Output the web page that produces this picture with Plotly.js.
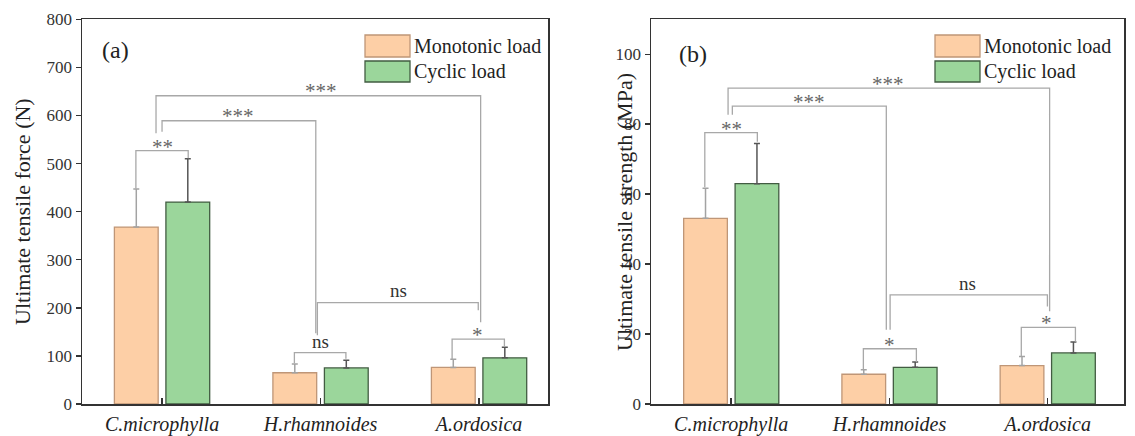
<!DOCTYPE html>
<html><head><meta charset="utf-8">
<script src="https://cdn.plot.ly/plotly-3.0.1.min.js"></script>
<style>html,body{margin:0;padding:0;background:#fff}</style>
</head><body><div id="chart" style="width:1135px;height:436px"></div>
<script>
const categories = ['C.microphylla', 'H.rhamnoides', 'A.ordosica'];
const seriesNames = ['Monotonic load', 'Cyclic load'];
const forceMono = [368, 65, 76];
const forceMonoErr = [79, 18, 17];
const forceCyclic = [420, 75, 96];
const forceCyclicErr = [90, 16, 22];
const strengthMono = [53.1, 8.5, 11.0];
const strengthMonoErr = [8.6, 1.3, 2.6];
const strengthCyclic = [63.0, 10.5, 14.6];
const strengthCyclicErr = [11.5, 1.5, 3.1];
// significance brackets: [xLeft, xRight, yTop, yLeftEnd, yRightEnd, label, labelX, labelY]
const sigForce = [
  [-0.165, 0.165, 527, 448, 511, '**', 0, 545],
  [0.0, 0.97, 589, 566, 147, '***', 0.48, 609],
  [-0.038, 2.01, 641, 563, 170, '***', 1.0, 661],
  [0.98, 1.995, 211, 143, 195, 'ns', 1.49, 231],
  [0.835, 1.16, 107, 85, 94, 'ns', 1.0, 125],
  [1.83, 2.16, 135, 93, 119, '*', 1.99, 154]
];
const sigStrength = [
  [-0.167, 0.165, 77.6, 62.0, 75.0, '**', 0, 80.1],
  [0.007, 0.98, 85.2, 82.7, 21.2, '***', 0.494, 87.7],
  [-0.02, 2.012, 90.3, 82.7, 26.5, '***', 0.99, 92.9],
  [1.004, 1.998, 31.2, 21.2, 27.9, 'ns', 1.495, 33.8],
  [0.835, 1.17, 15.8, 10.0, 12.0, '*', 1.0, 18.4],
  [1.833, 2.175, 21.9, 13.7, 17.8, '*', 1.99, 24.6]
];

const xs = categories.map((c, i) => i);
const FONT = 'Liberation Serif, Times New Roman, serif';
const monoFill = '#FDCFA6', monoLine = '#BF9677', monoErr = '#A3A3A3';
const cycFill = '#9BD69B', cycLine = '#425C42', cycErr = '#555555';
const W = 1135, H = 436;

function barTrace(vals, errs, name, fill, line, ecol, xa, ya) {
  return {
    type: 'bar', x: xs, y: vals, name: name, xaxis: xa, yaxis: ya, showlegend: false,
    marker: {color: fill, line: {color: line, width: 1.3}},
    error_y: {type: 'data', symmetric: false, array: errs, arrayminus: errs.map(() => 0),
      color: ecol, thickness: 1.5, width: 3}
  };
}

const data = [
  barTrace(forceMono, forceMonoErr, seriesNames[0], monoFill, monoLine, monoErr, 'x', 'y'),
  barTrace(forceCyclic, forceCyclicErr, seriesNames[1], cycFill, cycLine, cycErr, 'x', 'y'),
  barTrace(strengthMono, strengthMonoErr, seriesNames[0], monoFill, monoLine, monoErr, 'x2', 'y2'),
  barTrace(strengthCyclic, strengthCyclicErr, seriesNames[1], cycFill, cycLine, cycErr, 'x2', 'y2')
];

const shapes = [], annotations = [];
function addSig(list, xr, yr) {
  list.forEach(b => {
    const [x1, x2, yt, yl, yr2, lab, lx, ly] = b;
    shapes.push({type: 'path', xref: xr, yref: yr,
      path: `M ${x1} ${yl} L ${x1} ${yt} L ${x2} ${yt} L ${x2} ${yr2}`,
      line: {color: '#A8A8A8', width: 1.3}});
    annotations.push({xref: xr, yref: yr, x: lx, y: ly, text: lab, showarrow: false,
      xanchor: 'center', yanchor: 'middle', yshift: lab === 'ns' ? 2 : -5,
      font: {family: FONT, size: lab === 'ns' ? 19 : 21, color: lab === 'ns' ? '#333' : '#666'}});
  });
}
addSig(sigForce, 'x', 'y');
addSig(sigStrength, 'x2', 'y2');

// legends (drawn per panel)
function addLegend(boxLeft, textLeft) {
  const rows = [[35, 57, 46, monoFill, monoLine, seriesNames[0]], [61, 82, 71.5, cycFill, cycLine, seriesNames[1]]];
  rows.forEach(r => {
    shapes.push({type: 'rect', xref: 'paper', yref: 'paper',
      x0: boxLeft / W, x1: (boxLeft + 45) / W, y0: 1 - r[1] / H, y1: 1 - r[0] / H,
      fillcolor: r[3], line: {color: r[4], width: 1.3}});
    annotations.push({xref: 'paper', yref: 'paper', x: textLeft / W, y: 1 - r[2] / H,
      text: r[5], showarrow: false, xanchor: 'left', yanchor: 'middle',
      font: {family: FONT, size: 20, color: '#222'}});
  });
}
addLegend(365, 412);
addLegend(935, 982);

annotations.push({xref: 'paper', yref: 'paper', x: 115 / W, y: 1 - 50 / H, text: '(a)', showarrow: false,
  xanchor: 'center', yanchor: 'middle', font: {family: FONT, size: 24, color: '#222'}});
annotations.push({xref: 'paper', yref: 'paper', x: 693 / W, y: 1 - 54 / H, text: '(b)', showarrow: false,
  xanchor: 'center', yanchor: 'middle', font: {family: FONT, size: 24, color: '#222'}});
// y-axis title of panel (b) overlaps its tick labels, as in the original
annotations.push({xref: 'paper', yref: 'paper', x: 624 / W, y: 1 - 212 / H, text: 'Ultimate tensile strength (MPa)',
  showarrow: false, textangle: -90, xanchor: 'center', yanchor: 'middle',
  font: {family: FONT, size: 22, color: '#222'}});

const xCommon = {
  tickmode: 'array', tickvals: xs, ticktext: categories, ticks: 'inside', ticklen: 6, tickwidth: 1.5,
  tickcolor: '#333', showline: true, mirror: true, linecolor: '#333', linewidth: 1.5,
  showgrid: false, zeroline: false, automargin: false, ticklabelstandoff: 1,
  tickfont: {family: FONT, size: 20, color: '#222', style: 'italic'}
};
const yCommon = {
  ticks: 'outside', ticklen: 5, tickwidth: 1.5, tickcolor: '#333', showline: true, mirror: true,
  linecolor: '#333', linewidth: 1.5, showgrid: false, zeroline: false, automargin: false,
  tickfont: {family: FONT, size: 17, color: '#333'}
};

const layout = {
  width: W, height: H, margin: {l: 0, r: 0, t: 0, b: 0},
  paper_bgcolor: '#fff', plot_bgcolor: '#fff',
  barmode: 'group', bargap: 0.35, bargroupgap: 0.15, showlegend: false,
  xaxis: Object.assign({}, xCommon, {domain: [82 / W, 548 / W], range: [-0.505, 2.435], anchor: 'y'}),
  yaxis: Object.assign({}, yCommon, {domain: [1 - 404 / H, 1 - 19.3 / H], range: [0, 800], dtick: 100, anchor: 'x',
    title: {text: 'Ultimate tensile force (N)', standoff: 10, font: {family: FONT, size: 22, color: '#222'}}}),
  xaxis2: Object.assign({}, xCommon, {domain: [651 / W, 1124 / W], range: [-0.507, 2.482], anchor: 'y2'}),
  yaxis2: Object.assign({}, yCommon, {domain: [1 - 404 / H, 1 - 19.3 / H], range: [0, 110],
    tickvals: [0, 20, 40, 60, 80, 100], anchor: 'x2'}),
  shapes: shapes, annotations: annotations
};

Plotly.newPlot('chart', data, layout, {displayModeBar: false, staticPlot: true});
</script></body></html>
